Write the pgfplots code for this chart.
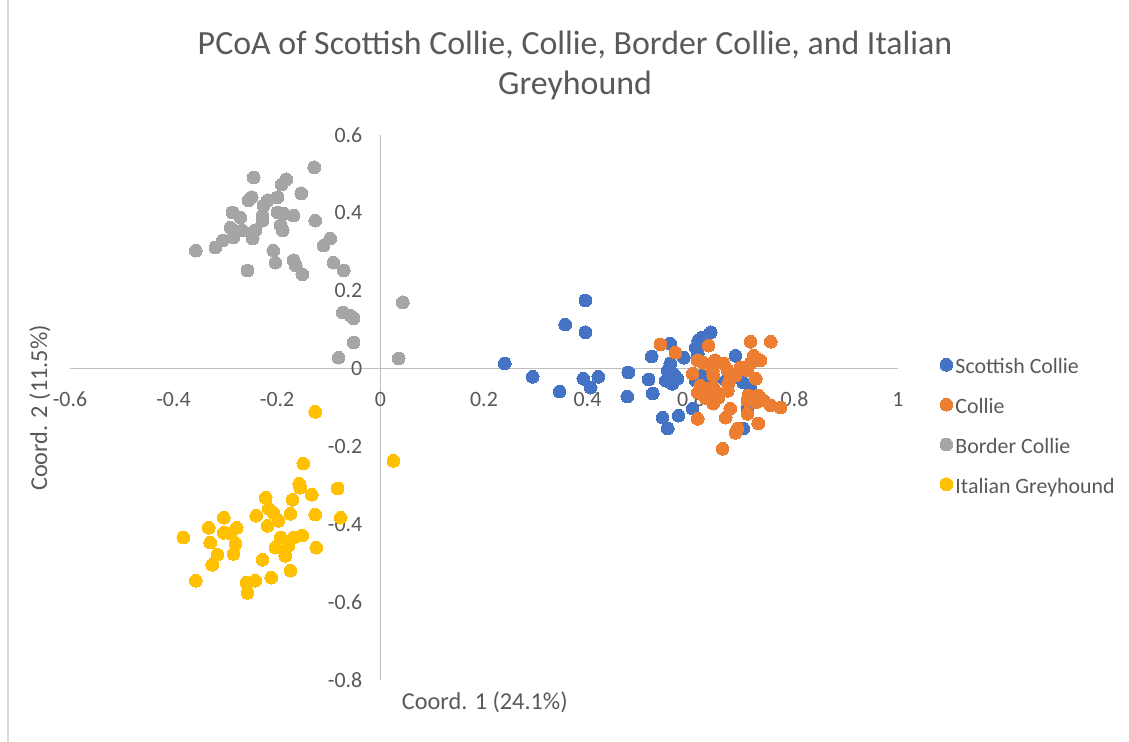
\documentclass[border=0pt]{standalone}
\usepackage{fontspec}
\setmainfont{Carlito}
\usepackage{pgfplots}
\pgfplotsset{compat=1.18}
\definecolor{scblue}{HTML}{4472C4}
\definecolor{corange}{HTML}{ED7D31}
\definecolor{bgray}{HTML}{A5A5A5}
\definecolor{igold}{HTML}{FFC000}
\definecolor{txtgray}{HTML}{595959}
\definecolor{axgray}{HTML}{BFBFBF}
\begin{document}
\begin{tikzpicture}
\path[use as bounding box] (-52.5pt,-46.5pt) rectangle (794.25pt,510pt);
\draw[color=black!15, line width=1.2pt] (-46.5pt,-46.5pt) -- (-46.5pt,510pt);
\begin{axis}[
  at={(0pt,0pt)}, anchor=south west,
  scale only axis, width=621pt, height=408.75pt,
  xmin=-0.6, xmax=1, ymin=-0.8, ymax=0.6,
  axis lines=center,
  axis line style={-, draw=axgray, line width=0.9pt},
  hide obscured x ticks=false, hide obscured y ticks=false,
  xtick={-0.6,-0.4,-0.2,0,0.2,0.4,0.6,0.8,1},
  ytick={-0.8,-0.6,-0.4,-0.2,0,0.2,0.4,0.6},
  major tick length=0pt,
  /pgf/number format/assume math mode=true,
  ticklabel style={font=\fontsize{16.4}{19}\selectfont, text=txtgray},
  xticklabel style={anchor=center, inner sep=0pt, yshift=-22.9pt},
  yticklabel style={anchor=east, inner sep=0pt, xshift=-13.5pt},
  xlabel={Coord. 1 (24.1\%)},
  ylabel={Coord. 2 (11.5\%)},
  xlabel style={at={(axis description cs:0.501,-0.0404)}, anchor=center, font=\fontsize{18.2}{21}\selectfont, text=txtgray},
  ylabel style={at={(axis description cs:-0.0362,0.499)}, anchor=center, rotate=90, font=\fontsize{18.2}{21}\selectfont, text=txtgray},
  title={PCoA of Scottish Collie, Collie, Border Collie, and Italian\\Greyhound},
  title style={at={(axis description cs:0.610,1.0605)}, anchor=base, align=center, font=\fontsize{25.4}{30}\selectfont, text=txtgray},
  legend style={at={(axis description cs:1.0504,0.4618)}, anchor=west, draw=none, fill=none, inner sep=0pt,
    font=\fontsize{16.4}{19}\selectfont, text=txtgray,
    nodes={inner sep=2pt, text height=11pt, text depth=3.5pt}, row sep=11.4pt},
  legend cell align=left,
  legend image code/.code={\draw[#1] plot coordinates {(0pt,2.8pt)};},
  every axis plot/.append style={only marks, mark=*, mark size=4.8pt},
]
\addplot[mark options={draw=scblue, fill=scblue, line width=0pt}] coordinates {
(0.240,0.013) (0.294,-0.021) (0.346,-0.059) (0.357,0.113) (0.396,0.175) (0.396,0.093)
(0.392,-0.026) (0.421,-0.021) (0.406,-0.049) (0.479,-0.010) (0.477,-0.072) (0.524,0.031)
(0.518,-0.028) (0.526,-0.064) (0.560,0.064) (0.586,0.028) (0.560,0.013) (0.555,-0.005)
(0.566,-0.013) (0.574,-0.026) (0.551,-0.031) (0.564,-0.039) (0.614,0.072) (0.622,0.080)
(0.638,0.093) (0.609,0.054) (0.613,0.039) (0.622,-0.018) (0.642,-0.026) (0.609,-0.031)
(0.603,-0.103) (0.545,-0.126) (0.576,-0.121) (0.555,-0.154) (0.686,0.033) (0.701,-0.036)
(0.715,-0.049) (0.701,-0.154) (0.709,-0.100) (0.667,-0.031)
};
\addlegendentry{Scottish Collie}
\addplot[mark options={draw=corange, fill=corange, line width=0pt}] coordinates {
(0.541,0.062) (0.570,0.041) (0.634,0.059) (0.715,0.069) (0.754,0.069) (0.613,0.021)
(0.624,0.015) (0.642,0.015) (0.647,0.021) (0.663,0.013) (0.671,-0.005) (0.603,-0.013)
(0.618,-0.044) (0.632,-0.051) (0.643,-0.049) (0.613,-0.062) (0.628,-0.075) (0.642,-0.082)
(0.651,-0.062) (0.613,-0.129) (0.696,0.003) (0.709,-0.005) (0.721,0.033) (0.734,0.021)
(0.715,0.013) (0.725,-0.026) (0.676,-0.026) (0.686,-0.018) (0.642,-0.005) (0.643,-0.018)
(0.672,-0.039) (0.671,-0.057) (0.653,-0.075) (0.643,-0.090) (0.711,-0.069) (0.730,-0.069)
(0.740,-0.082) (0.754,-0.095) (0.773,-0.100) (0.709,-0.082) (0.725,-0.087) (0.676,-0.103)
(0.667,-0.126) (0.709,-0.116) (0.686,-0.165) (0.690,-0.154) (0.730,-0.141) (0.661,-0.206)
};
\addlegendentry{Collie}
\addplot[mark options={draw=bgray, fill=bgray, line width=0pt}] coordinates {
(-0.128,0.517) (-0.245,0.491) (-0.182,0.486) (-0.191,0.473) (-0.153,0.450) (-0.249,0.440)
(-0.255,0.432) (-0.199,0.440) (-0.218,0.432) (-0.226,0.419) (-0.286,0.401) (-0.271,0.388)
(-0.228,0.393) (-0.199,0.401) (-0.187,0.398) (-0.168,0.393) (-0.228,0.380) (-0.126,0.380)
(-0.193,0.368) (-0.189,0.355) (-0.290,0.362) (-0.284,0.355) (-0.267,0.355) (-0.242,0.355)
(-0.284,0.337) (-0.247,0.334) (-0.097,0.334) (-0.110,0.316) (-0.305,0.329) (-0.319,0.311)
(-0.357,0.303) (-0.207,0.303) (-0.203,0.272) (-0.168,0.278) (-0.164,0.265) (-0.091,0.272)
(-0.071,0.252) (-0.257,0.252) (-0.151,0.242) (0.043,0.170) (-0.073,0.144) (-0.058,0.136)
(-0.052,0.129) (-0.052,0.067) (-0.081,0.028) (0.035,0.026)
};
\addlegendentry{Border Collie}
\addplot[mark options={draw=igold, fill=igold, line width=0pt}] coordinates {
(-0.126,-0.111) (0.025,-0.237) (-0.149,-0.244) (-0.083,-0.308) (-0.157,-0.296) (-0.155,-0.306)
(-0.133,-0.324) (-0.222,-0.332) (-0.170,-0.337) (-0.216,-0.360) (-0.207,-0.370) (-0.174,-0.373)
(-0.126,-0.375) (-0.077,-0.383) (-0.303,-0.383) (-0.240,-0.378) (-0.197,-0.391) (-0.218,-0.404)
(-0.332,-0.409) (-0.278,-0.409) (-0.303,-0.422) (-0.290,-0.424) (-0.381,-0.434) (-0.329,-0.447)
(-0.280,-0.450) (-0.193,-0.434) (-0.203,-0.460) (-0.168,-0.434) (-0.151,-0.429) (-0.178,-0.455)
(-0.184,-0.481) (-0.124,-0.460) (-0.284,-0.476) (-0.315,-0.478) (-0.228,-0.491) (-0.325,-0.504)
(-0.174,-0.519) (-0.357,-0.545) (-0.259,-0.550) (-0.242,-0.545) (-0.211,-0.537) (-0.257,-0.576)
};
\addlegendentry{Italian Greyhound}
\end{axis}
\end{tikzpicture}
\end{document}
